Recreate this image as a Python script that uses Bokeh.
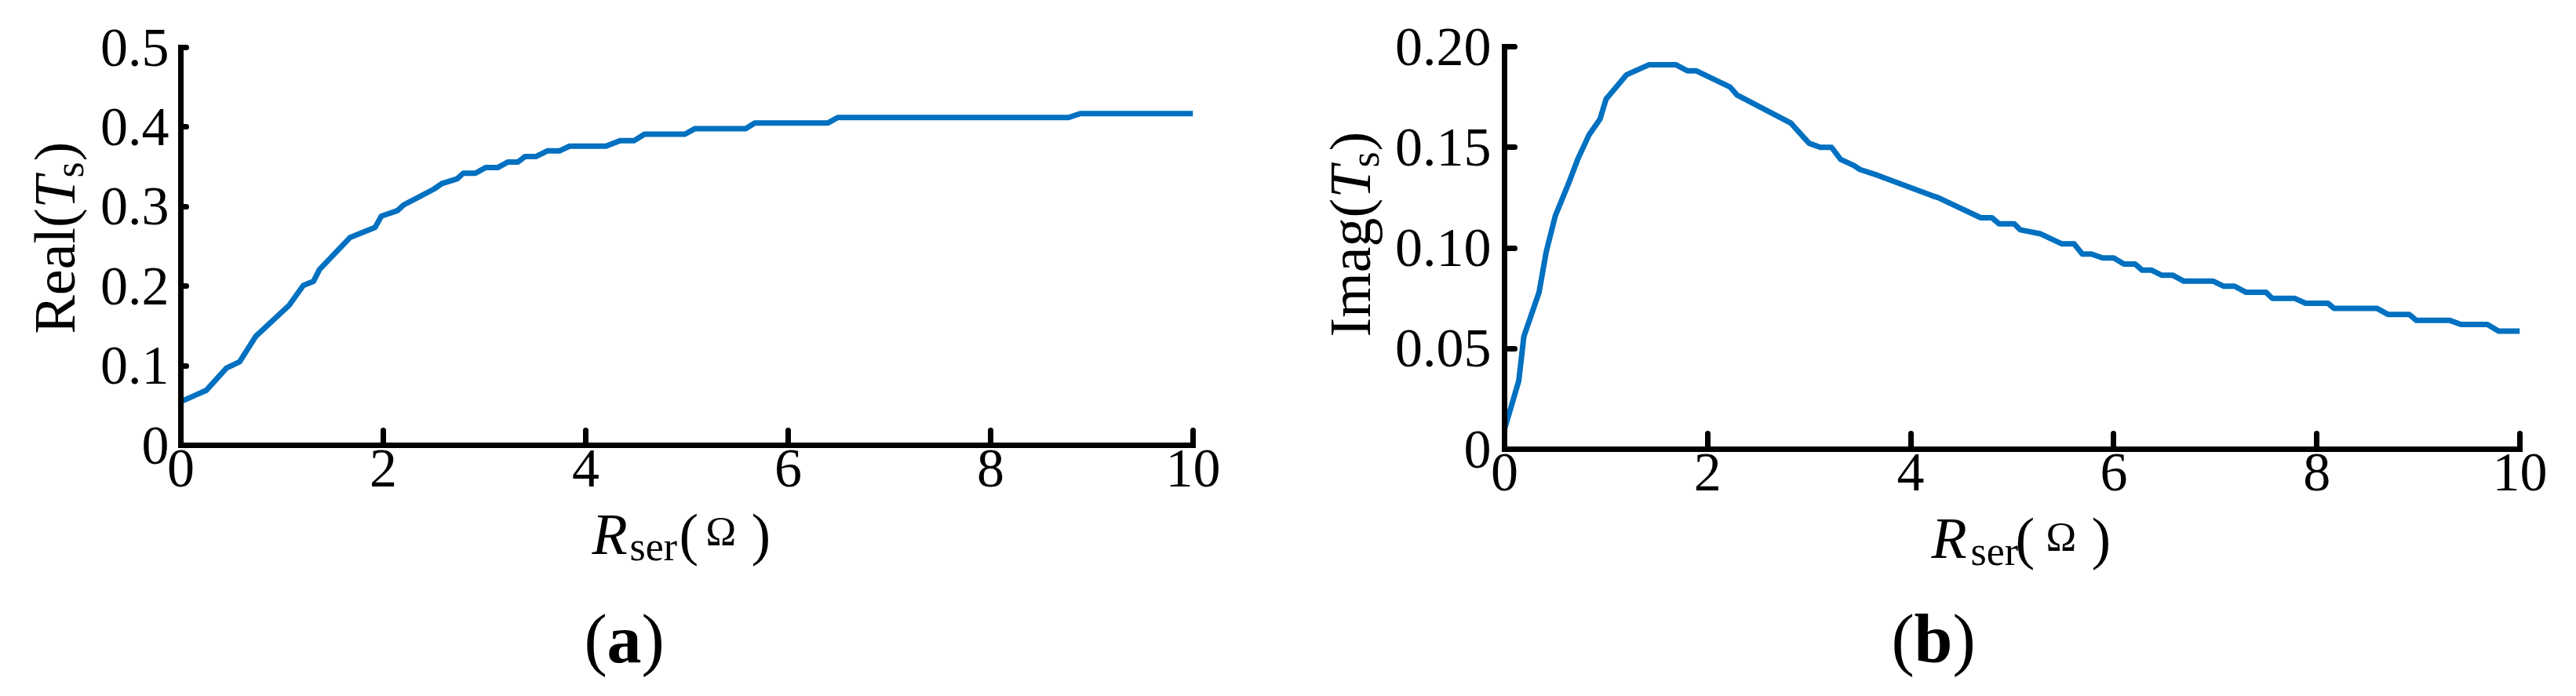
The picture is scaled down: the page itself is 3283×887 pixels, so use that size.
import math
from bokeh.plotting import figure
from bokeh.models import Range1d, FixedTicker, Label
from bokeh.layouts import row, column
from bokeh.embed import file_html
from bokeh.resources import INLINE

# ---------------- data ----------------
x_ticks = [0, 2, 4, 6, 8, 10]
x_tick_labels = ["0", "2", "4", "6", "8", "10"]

real_ticks = [0, 0.1, 0.2, 0.3, 0.4, 0.5]
real_tick_labels = ["0", "0.1", "0.2", "0.3", "0.4", "0.5"]

imag_ticks = [0, 0.05, 0.10, 0.15, 0.20]
imag_tick_labels = ["0", "0.05", "0.10", "0.15", "0.20"]

# panel (a): Real(Ts) vs Rser
r_ser_a = [0, 0.25, 0.45, 0.58, 0.74, 1.07, 1.21, 1.31, 1.37, 1.67, 1.92, 1.98,
           2.14, 2.2, 2.5, 2.58, 2.73, 2.79, 2.91, 3.01, 3.13, 3.23, 3.33, 3.4,
           3.51, 3.62, 3.74, 3.84, 4.2, 4.34, 4.48, 4.58, 4.98, 5.08, 5.58, 5.67,
           6.39, 6.49, 8.77, 8.89, 10.0]
real_ts = [0.055, 0.069, 0.097, 0.105, 0.137, 0.176, 0.201, 0.206, 0.221, 0.261,
           0.274, 0.288, 0.295, 0.302, 0.322, 0.329, 0.335, 0.342, 0.342, 0.349,
           0.349, 0.356, 0.356, 0.363, 0.363, 0.370, 0.370, 0.376, 0.376, 0.383,
           0.383, 0.391, 0.391, 0.398, 0.398, 0.405, 0.405, 0.412, 0.412, 0.417,
           0.417]

# panel (b): Imag(Ts) vs Rser
r_ser_b = [0, 0.14, 0.19, 0.34, 0.41, 0.50, 0.63, 0.72, 0.83, 0.94, 1.0, 1.2,
           1.42, 1.69, 1.8, 1.89, 2.22, 2.29, 2.82, 3.0, 3.11, 3.22, 3.31, 3.44,
           3.5, 3.68, 4.21, 4.27, 4.69, 4.80, 4.87, 5.02, 5.08, 5.28, 5.49, 5.61,
           5.69, 5.78, 5.89, 6.0, 6.10, 6.21, 6.28, 6.37, 6.47, 6.58, 6.69, 6.98,
           7.08, 7.19, 7.30, 7.50, 7.56, 7.78, 7.89, 8.11, 8.17, 8.59, 8.70, 8.91,
           8.98, 9.31, 9.42, 9.68, 9.79, 10.0]
imag_ts = [0.010, 0.034, 0.056, 0.078, 0.098, 0.116, 0.132, 0.144, 0.156, 0.164,
           0.174, 0.186, 0.191, 0.191, 0.188, 0.188, 0.180, 0.176, 0.162, 0.152,
           0.150, 0.150, 0.144, 0.141, 0.139, 0.136, 0.126, 0.125, 0.115, 0.115,
           0.112, 0.112, 0.109, 0.107, 0.102, 0.102, 0.097, 0.097, 0.095, 0.095,
           0.092, 0.092, 0.089, 0.089, 0.0865, 0.0865, 0.0835, 0.0835, 0.081, 0.081,
           0.078, 0.078, 0.075, 0.075, 0.0725, 0.0725, 0.070, 0.070, 0.067, 0.067,
           0.064, 0.064, 0.062, 0.062, 0.0587, 0.0587]

FONT = "Liberation Serif"
LINE_COLOR = "#0070C0"
UP = math.pi / 2
BASE_SHIFT = 0.3   # empirical offset of the label baseline (in em)


def make_panel(width, height, left, right, top, bottom, ylim, yticks, ylabels,
               y_tick_in, x_tick_in, y_standoff):
    p = figure(width=width, height=height, x_range=Range1d(0, 10),
               y_range=Range1d(*ylim), output_backend="svg", toolbar_location=None,
               title=None, min_border_left=left, min_border_right=right,
               min_border_top=top, min_border_bottom=bottom)
    p.grid.visible = False
    p.outline_line_color = None
    p.background_fill_color = "white"
    p.border_fill_color = "white"
    for ax in (p.xaxis[0], p.yaxis[0]):
        ax.axis_line_width = 7
        ax.axis_line_color = "black"
        ax.axis_line_cap = "square"
        ax.major_tick_line_width = 7
        ax.major_tick_line_color = "black"
        ax.major_tick_line_cap = "round"
        ax.major_tick_out = 0
        ax.minor_tick_line_color = None
        ax.major_label_text_font = FONT
        ax.major_label_text_font_size = "70px"
        ax.major_label_text_color = "black"
    p.xaxis[0].ticker = FixedTicker(ticks=x_ticks)
    p.xaxis[0].major_label_overrides = dict(zip(x_ticks, x_tick_labels))
    p.xaxis[0].major_tick_in = x_tick_in
    p.xaxis[0].major_label_standoff = 6
    p.yaxis[0].ticker = FixedTicker(ticks=yticks)
    p.yaxis[0].major_label_overrides = dict(zip(yticks, ylabels))
    p.yaxis[0].major_tick_in = y_tick_in
    p.yaxis[0].major_label_standoff = y_standoff
    return p


def text_fig(width, height, xr, yr):
    # blank figure; its frame maps page pixels (y negated) given by xr / yr
    f = figure(width=width, height=height, x_range=Range1d(*xr),
               y_range=Range1d(-yr[1], -yr[0]), output_backend="svg",
               toolbar_location=None, title=None, x_axis_type=None, y_axis_type=None,
               min_border_left=0, min_border_right=0, min_border_top=0,
               min_border_bottom=0)
    f.outline_line_color = None
    f.background_fill_color = "white"
    f.border_fill_color = "white"
    return f


def txt(f, xp, yp, text, size, style="normal", rotated=False):
    # (xp, yp): page position of the text baseline start
    d = BASE_SHIFT * size
    if rotated:
        x, y, ang = xp - d, -yp, UP
    else:
        x, y, ang = xp, -(yp - d), 0.0
    f.add_layout(Label(x=x, y=y, text=text, text_font=FONT,
                       text_font_size=f"{size}px", text_font_style=style,
                       text_color="black", text_align="left",
                       text_baseline="alphabetic", angle=ang))


# ---------------- panel (a) ----------------
ylab_a = text_fig(115, 649, (0, 115), (60, 567))
txt(ylab_a, 92, 425, "Real(", 74, rotated=True)
txt(ylab_a, 92, 265, "T", 74, "italic", rotated=True)
txt(ylab_a, 104, 226, "s", 52, rotated=True)
txt(ylab_a, 92, 205, ")", 74, rotated=True)

main_a = make_panel(1525, 649, 115, 120, 60, 82, (0, 0.5), real_ticks,
                    real_tick_labels, y_tick_in=7, x_tick_in=19, y_standoff=15)
main_a.line(r_ser_a, real_ts, line_color=LINE_COLOR, line_width=7, line_join="round")

bot_a = text_fig(1640, 237, (0, 1640), (649, 886))
txt(bot_a, 754, 703, "R", 74, "italic")
txt(bot_a, 802, 712, "ser", 52)
txt(bot_a, 865, 703, "(", 74)
txt(bot_a, 899, 693, "Ω", 52)
txt(bot_a, 957, 703, ")", 74)
txt(bot_a, 744, 840, "(", 88)
txt(bot_a, 773, 840, "a", 88, "bold")
txt(bot_a, 817, 840, ")", 88)

col_a = column(row(ylab_a, main_a), bot_a)

# ---------------- panel (b) ----------------
ylab_b = text_fig(125, 654, (1640, 1765), (59, 572))
txt(ylab_b, 1743, 429, "Imag(", 74, rotated=True)
txt(ylab_b, 1743, 252, "T", 74, "italic", rotated=True)
txt(ylab_b, 1755, 213, "s", 52, rotated=True)
txt(ylab_b, 1743, 192, ")", 74, rotated=True)

main_b = make_panel(1517, 654, 152, 71, 59, 82, (0, 0.2), imag_ticks,
                    imag_tick_labels, y_tick_in=13, x_tick_in=20, y_standoff=17)
main_b.line(r_ser_b, imag_ts, line_color=LINE_COLOR, line_width=7, line_join="round")

bot_b = text_fig(1642, 232, (1640, 3282), (654, 886))
txt(bot_b, 2461, 708, "R", 74, "italic")
txt(bot_b, 2511, 718, "ser", 52)
txt(bot_b, 2568, 708, "(", 74)
txt(bot_b, 2607, 700, "Ω", 52)
txt(bot_b, 2665, 708, ")", 74)
txt(bot_b, 2410, 840, "(", 88)
txt(bot_b, 2439, 840, "b", 88, "bold")
txt(bot_b, 2488, 840, ")", 88)

col_b = column(row(ylab_b, main_b), bot_b)

layout = row(col_a, col_b)
open("out.html", "w").write(file_html(layout, INLINE))
